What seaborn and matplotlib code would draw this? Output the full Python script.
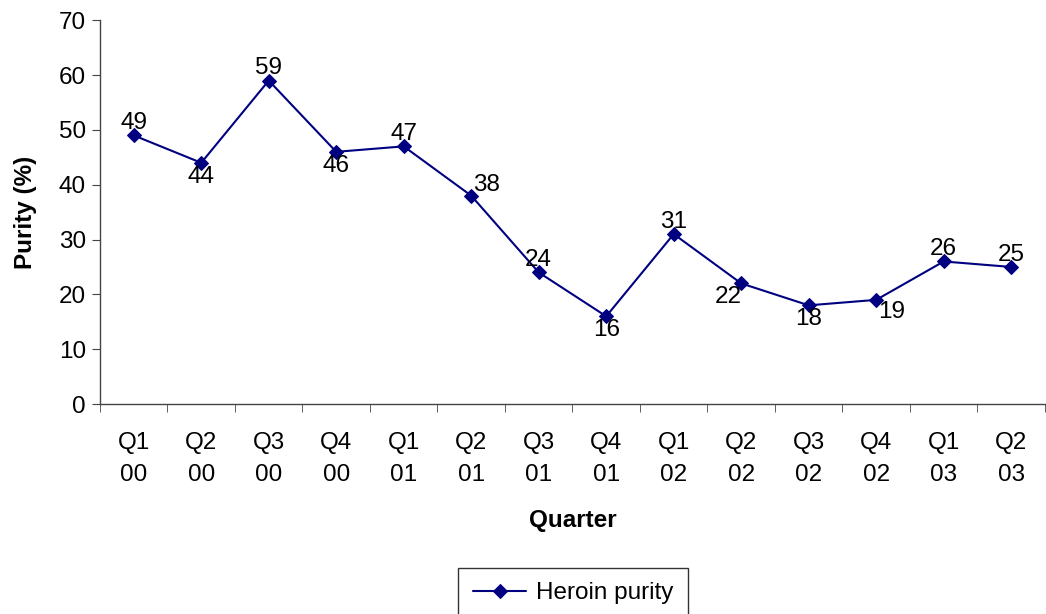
import matplotlib
matplotlib.use("Agg")
import matplotlib.pyplot as plt
import seaborn as sns
import pandas as pd
import numpy as np

quarters = ["Q1\n00", "Q2\n00", "Q3\n00", "Q4\n00", "Q1\n01", "Q2\n01", "Q3\n01",
            "Q4\n01", "Q1\n02", "Q2\n02", "Q3\n02", "Q4\n02", "Q1\n03", "Q2\n03"]
purity = [49, 44, 59, 46, 47, 38, 24, 16, 31, 22, 18, 19, 26, 25]
# where each data label sits relative to its point
label_pos = ["above", "below", "above", "below", "above", "above_right", "above",
             "below", "above", "below_left", "below", "below_right", "above", "above"]

FS = 17.5

sns.set_style("white")
plt.rcParams["font.family"] = ["Liberation Sans", "DejaVu Sans"]
plt.rcParams["text.color"] = "black"
plt.rcParams["xtick.color"] = "black"
plt.rcParams["ytick.color"] = "black"
plt.rcParams["axes.labelcolor"] = "black"

df = pd.DataFrame({"idx": np.arange(len(quarters)), "purity": purity})

fig = plt.figure(figsize=(10.46, 6.14), dpi=100)
ax = fig.add_axes([0.0956, 0.342, 0.9034, 0.625])

sns.lineplot(data=df, x="idx", y="purity", ax=ax, color="#000080", marker="D",
             markersize=7.5, markeredgecolor="#000080", linewidth=1.5, label="Heroin purity")

offsets = {"above": (0, 1, "center", "bottom"), "below": (0, -2, "center", "top"),
           "above_right": (11, 0, "center", "bottom"), "below_left": (-9, -2, "center", "top"),
           "below_right": (11, -1, "center", "top")}
for i, (v, p) in enumerate(zip(purity, label_pos)):
    dx, dy, ha, va = offsets[p]
    ax.annotate(str(v), (i, v), xytext=(dx, dy), textcoords="offset points",
                ha=ha, va=va, fontsize=FS, color="black")

ax.set_xlim(-0.5, len(quarters) - 0.5)
ax.set_ylim(0, 70)
ax.set_yticks(range(0, 71, 10))
ax.set_xticks(np.arange(len(quarters)))
ax.set_xticklabels(quarters, fontsize=FS, linespacing=1.6)
ax.set_xticks(np.arange(len(quarters) + 1) - 0.5, minor=True)
ax.tick_params(axis="x", which="major", length=0, pad=20)
ax.tick_params(axis="x", which="minor", length=6, direction="out", color="#444444", bottom=True)
ax.tick_params(axis="y", length=6, direction="out", color="#444444", left=True, labelsize=FS, pad=4)

for s in ["top", "right"]:
    ax.spines[s].set_visible(False)
for s in ["left", "bottom"]:
    ax.spines[s].set_color("#444444")
    ax.spines[s].set_linewidth(1)

ax.set_xlabel("Quarter", fontsize=FS, fontweight="bold")
ax.xaxis.set_label_coords(0.5, -0.273)
ax.set_ylabel("Purity (%)", fontsize=FS, fontweight="bold", labelpad=16)

leg = ax.legend(loc="center", bbox_to_anchor=(0.548, 0.034), bbox_transform=fig.transFigure,
                fontsize=FS, frameon=True, fancybox=False, handlelength=2.2,
                handletextpad=0.4, borderpad=0.6, borderaxespad=0)
leg.get_frame().set_edgecolor("black")
leg.get_frame().set_linewidth(1)

fig.savefig("out.png", dpi=100)
